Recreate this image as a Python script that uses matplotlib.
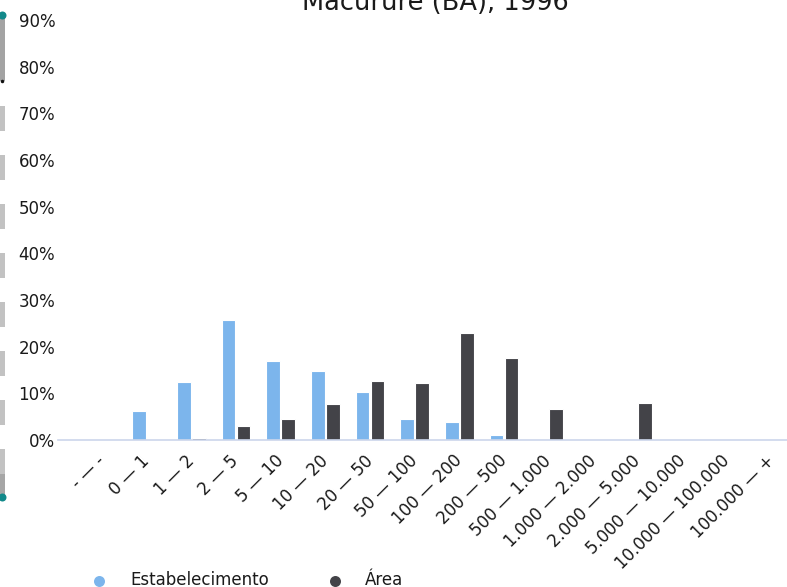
import matplotlib
matplotlib.use('Agg')
import matplotlib.pyplot as plt
from matplotlib.patches import Rectangle
from matplotlib.lines import Line2D
from matplotlib.ticker import FuncFormatter

# Classes de área (ha)
categorias = ['- — -', '0 — 1', '1 — 2', '2 — 5', '5 — 10', '10 — 20', '20 — 50',
              '50 — 100', '100 — 200', '200 — 500', '500 — 1.000', '1.000 — 2.000',
              '2.000 — 5.000', '5.000 — 10.000', '10.000 — 100.000', '100.000 — +']

# Percentuais
estabelecimento = [0, 6.3, 12.5, 25.7, 17.0, 14.8, 10.2, 4.4, 3.9, 1.1, 0, 0, 0, 0, 0, 0]
area = [0, 0, 0.5, 3.1, 4.4, 7.8, 12.6, 12.3, 23.0, 17.5, 6.6, 0, 8.0, 0, 0, 0]

series_nomes = ['Estabelecimento', 'Área']
titulo = 'Macururé (BA), 1996'
yticks = list(range(0, 100, 10))

COR_EST = '#7cb5ec'
COR_AREA = '#434348'
W, H = 787, 587


def fx(px):
    return px / W


def fy(py):
    # pixels contados a partir do topo
    return 1 - py / H


def ponto(fig, xp, yp, cor, diam):
    # marcador redondo em coordenadas de figura (diam em pixels)
    fig.add_artist(Line2D([fx(xp)], [fy(yp)], transform=fig.transFigure,
                          marker='o', markersize=diam * 0.72, color=cor,
                          markeredgewidth=0, linestyle='none'))


def barra_lateral(fig):
    # a barra cinza cortada na borda esquerda
    fig.add_artist(Rectangle((0, fy(81)), fx(5), fy(15) - fy(81),
                             transform=fig.transFigure, color='#a3a3a3', lw=0))
    for y0 in range(106, 450, 49):
        fig.add_artist(Rectangle((0, fy(y0 + 25)), fx(5), fy(y0) - fy(y0 + 25),
                                 transform=fig.transFigure, color='#c2c2c2', lw=0))
    fig.add_artist(Rectangle((0, fy(496)), fx(5), fy(474) - fy(496),
                             transform=fig.transFigure, color='#a6a6a6', lw=0))
    ponto(fig, 1.5, 15, '#12898a', 8)
    ponto(fig, 1.5, 497, '#12898a', 8)
    ponto(fig, 1.5, 81, '#111111', 3.5)


def main():
    fig = plt.figure(figsize=(W / 100, H / 100), dpi=100)
    ax = fig.add_axes([fx(58), fy(440), fx(787 - 58), fy(20) - fy(440)])

    x = list(range(len(categorias)))
    desloc = 0.168
    largura = 0.31
    ax.bar([i - desloc for i in x], estabelecimento, width=largura, color=COR_EST,
           edgecolor='white', linewidth=0.8)
    ax.bar([i + desloc for i in x], area, width=largura, color=COR_AREA,
           edgecolor='white', linewidth=0.8)

    ax.set_xlim(-0.988, 15.34)
    ax.set_ylim(0, 90)
    ax.set_yticks(yticks)
    ax.yaxis.set_major_formatter(FuncFormatter(lambda v, p: '%d%%' % v))
    ax.tick_params(axis='y', length=0, pad=2, labelsize=12, labelcolor='#1a1a1a')

    ax.set_xticks(x)
    ax.set_xticklabels(categorias, rotation=45, ha='right', va='center',
                       rotation_mode='anchor', fontsize=12, color='#1a1a1a')
    ax.tick_params(axis='x', length=0, pad=13)

    for s in ['top', 'right', 'left']:
        ax.spines[s].set_visible(False)
    ax.spines['bottom'].set_color('#ccd6eb')
    ax.spines['bottom'].set_linewidth(1.2)

    fig.text(fx(435.5), fy(10), titulo, ha='center', va='baseline',
             fontsize=18.5, color='#1a1a1a')

    # legenda manual embaixo
    for xm, xt, cor, nome in [(99, 130, COR_EST, series_nomes[0]),
                              (335, 365, COR_AREA, series_nomes[1])]:
        ponto(fig, xm, 581, cor, 11)
        fig.text(fx(xt), fy(585), nome, ha='left', va='baseline', fontsize=12,
                 color='#1a1a1a')

    barra_lateral(fig)

    fig.savefig('out.png', dpi=100)


if __name__ == '__main__':
    main()
